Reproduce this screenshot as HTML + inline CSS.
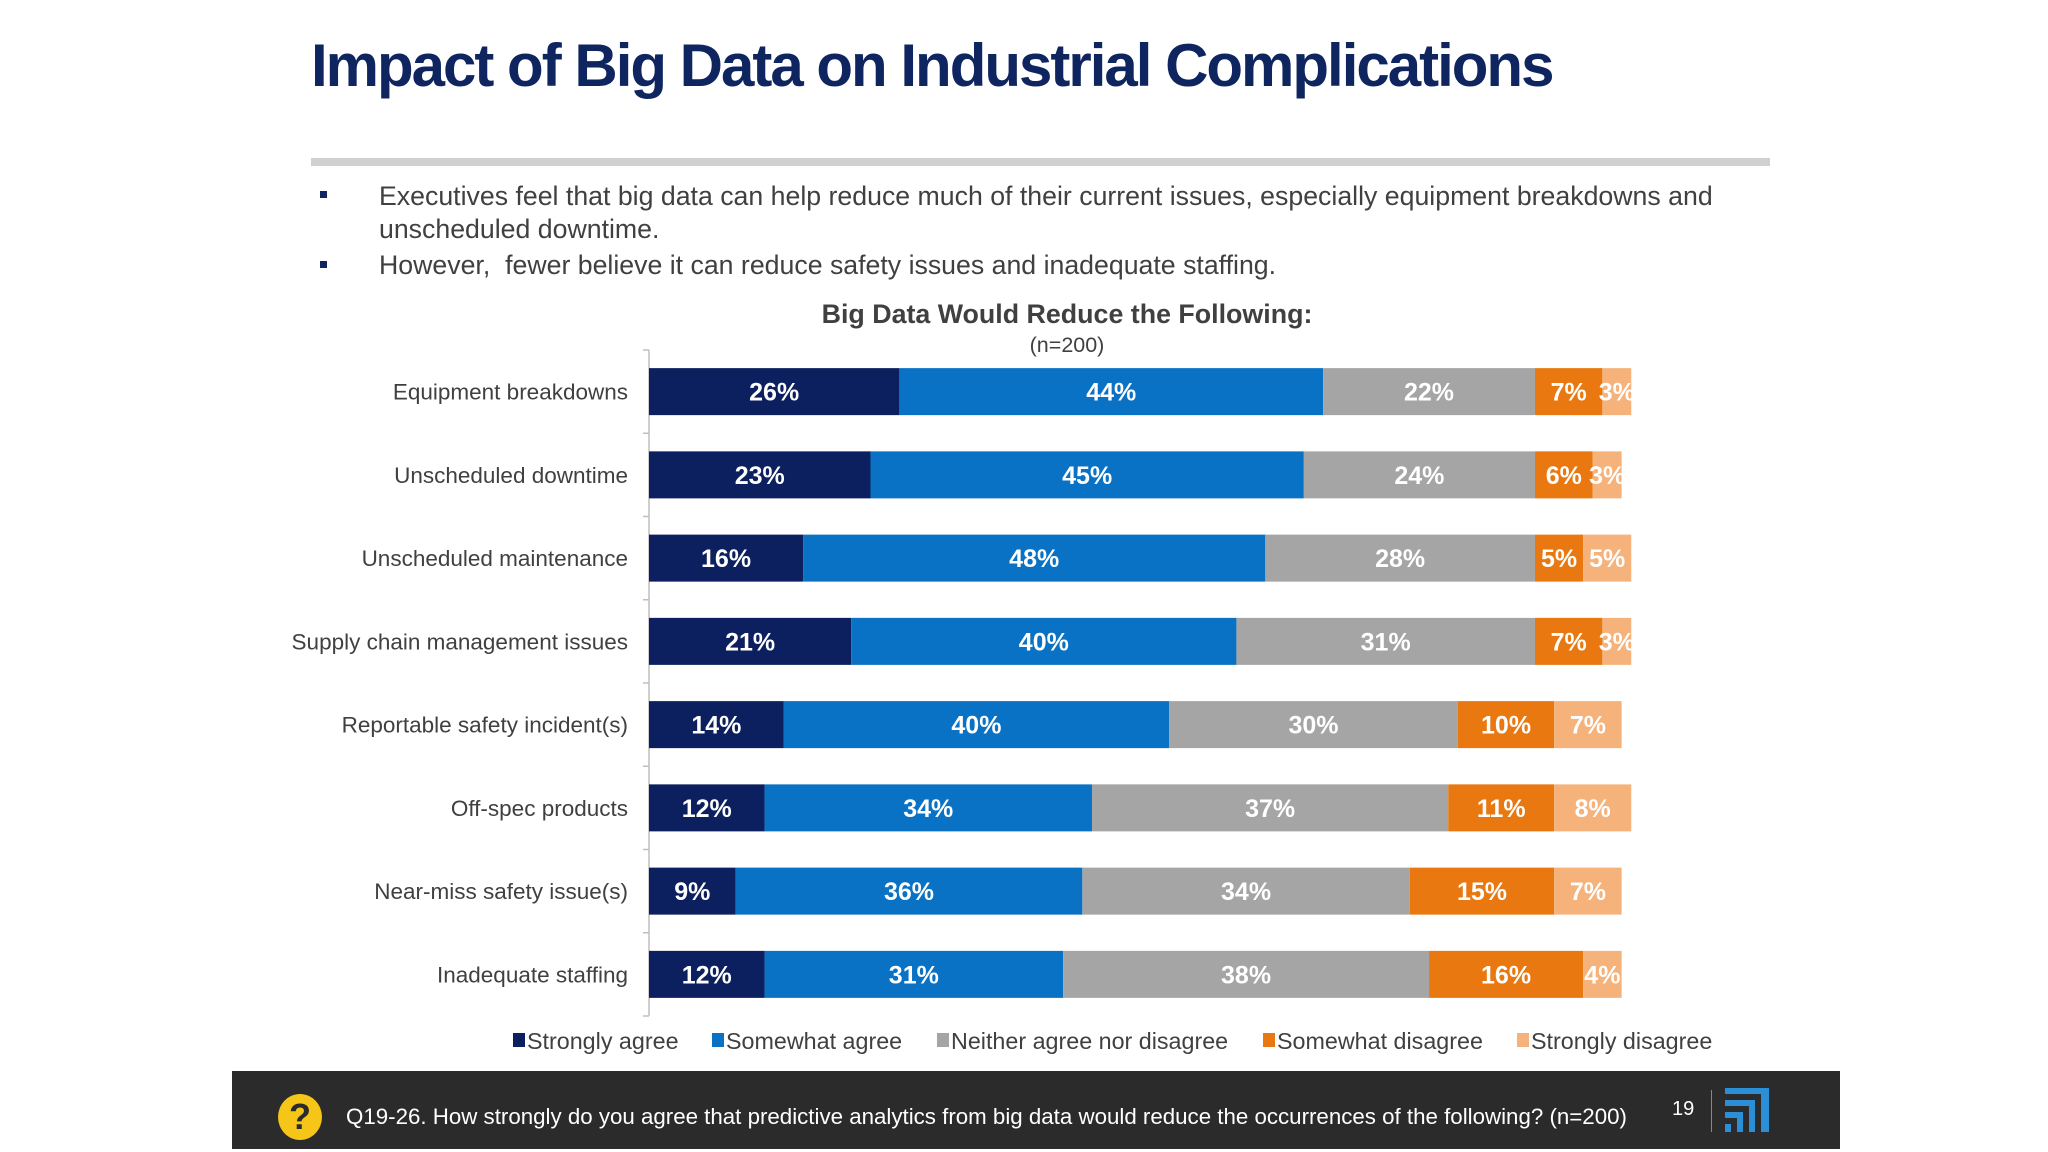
<!DOCTYPE html>
<html><head><meta charset="utf-8"><style>
body{margin:0;width:2048px;height:1152px;background:#fff;font-family:"Liberation Sans",sans-serif;position:relative;overflow:hidden}
.a{position:absolute}
</style></head><body>
<div class="a" style="left:311px;top:31px;font-size:60px;font-weight:bold;color:#0f2560;letter-spacing:-2px">Impact of Big Data on Industrial Complications</div>
<div class="a" style="left:311px;top:158px;width:1459px;height:8px;background:#d0d0d0"></div>
<div class="a" style="left:379px;top:180px;width:1450px;font-size:26.7px;line-height:33px;color:#404040">Executives feel that big data can help reduce much of their current issues, especially equipment breakdowns and<br>unscheduled downtime.</div>
<div class="a" style="left:379px;top:249px;font-size:26.7px;line-height:33px;color:#404040">However,&nbsp; fewer believe it can reduce safety issues and inadequate staffing.</div>
<div class="a" style="left:320px;top:191px;width:7px;height:7px;background:#0f2560"></div>
<div class="a" style="left:320px;top:261px;width:7px;height:7px;background:#0f2560"></div>
<svg class="a" style="left:0;top:0" width="2048" height="1152" id="chart">
<text x="1067" y="323" text-anchor="middle" font-size="26.8" font-weight="bold" fill="#404040">Big Data Would Reduce the Following:</text>
<text x="1067" y="352" text-anchor="middle" font-size="21.5" fill="#404040">(n=200)</text>
</svg>
<div class="a" style="left:232px;top:1071px;width:1608px;height:78px;background:#2b2b2b"></div>
<div class="a" style="left:278px;top:1094px;width:44px;height:46px;border-radius:50%;background:#f5c518;color:#2b2b2b;font-size:36px;font-weight:bold;text-align:center;line-height:46px">?</div>
<div class="a" style="left:346px;top:1104px;font-size:22.3px;color:#fff">Q19-26. How strongly do you agree that predictive analytics from big data would reduce the occurrences of the following? (n=200)</div>
<div class="a" style="left:1672px;top:1098px;font-size:20px;color:#fff">19</div>
<div class="a" style="left:1711px;top:1090px;width:1px;height:42px;background:#888"></div>
<svg class="a" style="left:1725px;top:1088px" width="46" height="46">
<rect x="0" y="0" width="44" height="6" fill="#2a8fd6"/><rect x="36" y="0" width="8" height="44" fill="#2a8fd6"/>
<rect x="0" y="12" width="30" height="6" fill="#2a8fd6"/><rect x="24" y="12" width="6" height="32" fill="#2a8fd6"/>
<rect x="0" y="24" width="18" height="6" fill="#2a8fd6"/><rect x="12" y="24" width="6" height="20" fill="#2a8fd6"/>
<rect x="0" y="36" width="6" height="8" fill="#2a8fd6"/></svg>
<script>
const categories=["Equipment breakdowns","Unscheduled downtime","Unscheduled maintenance","Supply chain management issues","Reportable safety incident(s)","Off-spec products","Near-miss safety issue(s)","Inadequate staffing"];
const stronglyAgree=[26,23,16,21,14,12,9,12];
const somewhatAgree=[44,45,48,40,40,34,36,31];
const neither=[22,24,28,31,30,37,34,38];
const somewhatDisagree=[7,6,5,7,10,11,15,16];
const stronglyDisagree=[3,3,5,3,7,8,7,4];
const seriesNames=["Strongly agree","Somewhat agree","Neither agree nor disagree","Somewhat disagree","Strongly disagree"];
const svg=document.getElementById('chart');const NS='http://www.w3.org/2000/svg';
const colors=["#0c1f5e","#0a72c4","#a5a5a5","#e8780f","#f5b27a"];
const series=[stronglyAgree,somewhatAgree,neither,somewhatDisagree,stronglyDisagree];
const x0=649,pxPer=9.63,yTop=350,yBot=1016,barH=47;
const band=(yBot-yTop)/categories.length;
const xs=v=>x0+v*pxPer;const yc=i=>yTop+band*(i+0.5);
function mk(t,a){const e=document.createElementNS(NS,t);for(const k in a)e.setAttribute(k,a[k]);svg.appendChild(e);return e;}
let ax=mk('line',{x1:x0,y1:yTop,x2:x0,y2:yBot,stroke:'#bfbfbf','stroke-width':1.5});


for(let i=0;i<=categories.length;i++){let t=mk('line',{x1:x0-6,x2:x0,y1:yTop+band*i,y2:yTop+band*i,stroke:'#bfbfbf','stroke-width':1.5});

}
categories.forEach((c,i)=>{
 let l=mk('text',{x:628,y:yc(i)+8,'text-anchor':'end','font-size':22.5,fill:'#404040'});l.textContent=c;
 
 
 let cum=0;
 series.forEach((s,j)=>{const v=s[i];
  let r=mk('rect',{x:xs(cum),y:yc(i)-barH/2,width:v*pxPer,height:barH,fill:colors[j]});
  
  
  let t=mk('text',{x:xs(cum+v/2),y:yc(i)+9,'text-anchor':'middle','font-size':25,'font-weight':'bold',fill:'#fff'});t.textContent=v+'%';
  
  
  cum+=v;});
});
const legX=[513,712,937,1263,1517];
seriesNames.forEach((n,j)=>{
 let r=mk('rect',{x:legX[j],y:1033,width:12,height:14,fill:colors[j]});
 
 
 let t=mk('text',{x:legX[j]+14,y:1049,'font-size':23.3,fill:'#404040'});t.textContent=n;
 
 
});
</script>
</body></html>
